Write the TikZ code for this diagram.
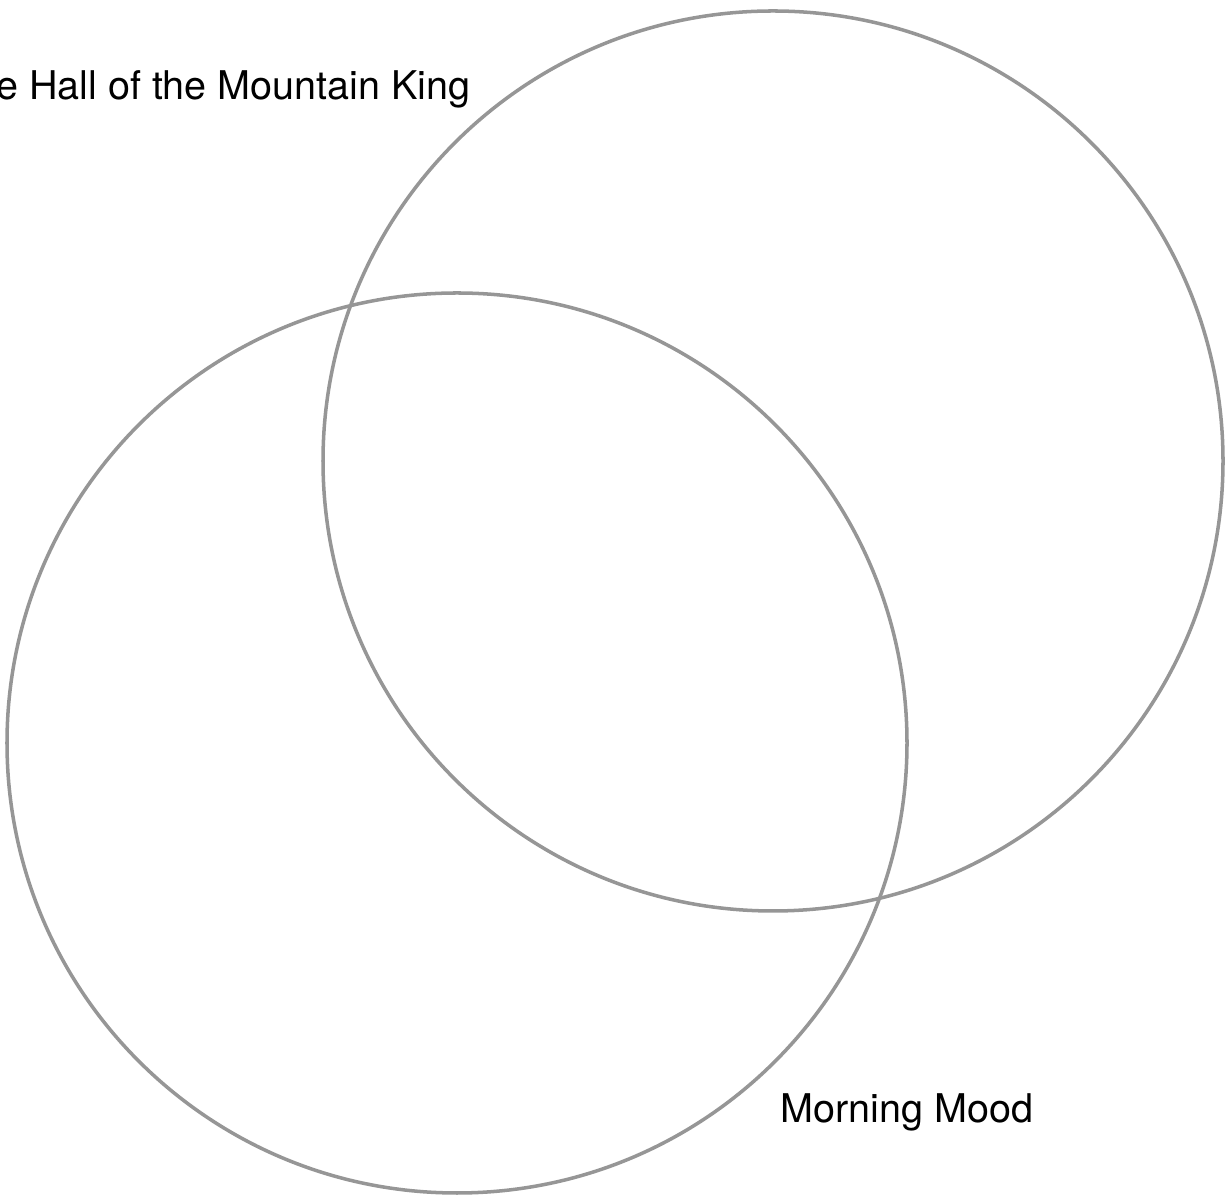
\documentclass[tikz,border=0pt]{standalone}
\usepackage{fontspec}
\setmainfont{TeX Gyre Heros}
\usepackage{tikz}
\usepackage{tkz-euclide}
\definecolor{venngray}{RGB}{150,150,150}

\begin{document}
\begin{tikzpicture}
    % --- 1. 畫布範圍 ---
    \useasboundingbox (0,0) rectangle (24.54,23.94);

    % --- 2. 定義兩圓圓心 A, B 與半徑 ---
    \def\rA{9}
    \def\rB{9}
    \tkzDefPoint(15.46,14.72){A}
    \tkzDefPoint(9.14,9.08){B}
    \tkzDefPoint(15.46+\rA,14.72){A_r}
    \tkzDefPoint(9.14+\rB,9.08){B_r}

    % --- 3. 繪製兩圓 ---
    \tkzDrawCircle[line width=2pt, venngray](A,A_r)
    \tkzDrawCircle[line width=2pt, venngray](B,B_r)

    % --- 4. 標籤 ---
    \node[anchor=base east, inner sep=0pt, font=\fontsize{22.5}{27}\selectfont] (labA) at (9.42,21.94) {e Hall of the Mountain King};
    \node[anchor=base west, inner sep=0pt, font=\fontsize{22.5}{27}\selectfont] (labB) at (15.60,1.48) {Morning Mood};

\end{tikzpicture}
\end{document}
